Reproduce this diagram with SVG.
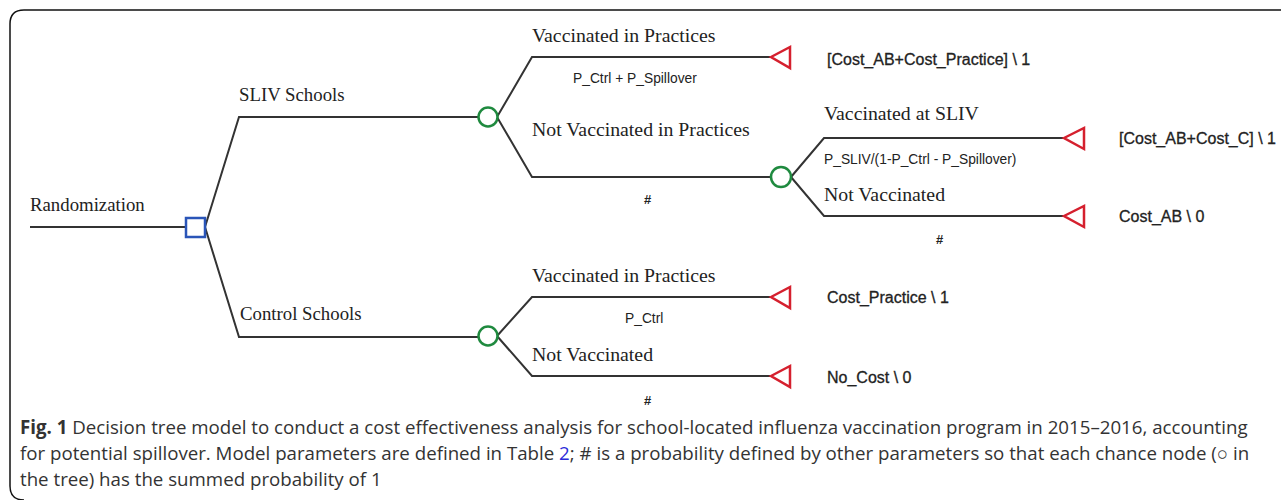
<svg xmlns="http://www.w3.org/2000/svg" width="1281" height="500" viewBox="0 0 1281 500">
<style>
.ln{stroke:#333;stroke-width:2;fill:none}
.dec{fill:#fff;stroke:#2a55b8;stroke-width:2.5}
.ch{fill:#fff;stroke:#1f8a3f;stroke-width:2.5}
.term{fill:#fff;stroke:#d5202e;stroke-width:2.5;stroke-linejoin:miter}
.lab{font-family:"Liberation Serif","Times New Roman",serif;font-size:19.8px;fill:#222}
.labl{font-family:"Liberation Serif","Times New Roman",serif;font-size:18.8px;fill:#222}
.prob{font-family:"Liberation Sans",Arial,sans-serif;font-size:13.8px;fill:#222}
.hash{font-family:"Liberation Sans",Arial,sans-serif;font-size:13px;font-weight:bold;fill:#222}
.pay{font-family:"Liberation Sans",Arial,sans-serif;font-size:16px;fill:#222;stroke:#222;stroke-width:0.3}
.cap{font-family:"Open Sans","Noto Sans",sans-serif;font-size:18.7px;fill:#333}
</style>
<rect width="1281" height="500" fill="#fff"/>
<path d="M1290 10 H24 Q10 10 10 24 V486 Q10 500 24 500" fill="none" stroke="#111" stroke-width="1.5"/>
<g id="connectors">
<path class="ln" d="M30 227 H186"/>
<path class="ln" d="M205 227 L239 117 H479"/>
<path class="ln" d="M205 227 L239 337 H479"/>
<path class="ln" d="M497 117 L532 57 H770"/>
<path class="ln" d="M497 117 L532 177 H771"/>
<path class="ln" d="M791 177 L824 138 H1063"/>
<path class="ln" d="M791 177 L824 216 H1063"/>
<path class="ln" d="M497 336 L532 297 H770"/>
<path class="ln" d="M497 336 L532 376 H770"/>
</g>
<g id="randomization">
<text class="labl" x="30" y="211">Randomization</text>
<rect class="dec" x="186" y="218" width="19" height="19"/>
</g>
<g id="sliv-schools">
<text class="labl" x="239" y="101">SLIV Schools</text>
<circle class="ch" cx="488" cy="117" r="9.5"/>
</g>
<g id="control-schools">
<text class="labl" x="240" y="320">Control Schools</text>
<circle class="ch" cx="488" cy="336" r="9.5"/>
</g>
<g id="sliv-vacc-practices">
<text class="lab" x="532" y="42">Vaccinated in Practices</text>
<text class="prob" x="573" y="83">P_Ctrl + P_Spillover</text>
<polygon class="term" points="771,57 790,47 790,68"/>
<text class="pay" x="827" y="65">[Cost_AB+Cost_Practice] \ 1</text>
</g>
<g id="sliv-not-vacc-practices">
<text class="lab" x="532" y="136">Not Vaccinated in Practices</text>
<text class="hash" x="644" y="204">#</text>
<circle class="ch" cx="781" cy="177" r="10"/>
</g>
<g id="vacc-at-sliv">
<text class="lab" x="824" y="120">Vaccinated at SLIV</text>
<text class="prob" x="824" y="164">P_SLIV/(1-P_Ctrl - P_Spillover)</text>
<polygon class="term" points="1064,138 1084,128 1084,149"/>
<text class="pay" x="1119" y="144">[Cost_AB+Cost_C] \ 1</text>
</g>
<g id="sliv-not-vacc">
<text class="lab" x="824" y="201">Not Vaccinated</text>
<text class="hash" x="936" y="244">#</text>
<polygon class="term" points="1064,216 1084,206 1084,227"/>
<text class="pay" x="1119" y="222">Cost_AB \ 0</text>
</g>
<g id="ctrl-vacc-practices">
<text class="lab" x="532" y="282">Vaccinated in Practices</text>
<text class="prob" x="625" y="323">P_Ctrl</text>
<polygon class="term" points="771,297 790,287 790,308"/>
<text class="pay" x="827" y="303">Cost_Practice \ 1</text>
</g>
<g id="ctrl-not-vacc">
<text class="lab" x="532" y="361">Not Vaccinated</text>
<text class="hash" x="644" y="405">#</text>
<polygon class="term" points="771,376 790,366 790,387"/>
<text class="pay" x="827" y="383">No_Cost \ 0</text>
</g>
<g id="caption">
<text class="cap" x="20" y="434"><tspan font-weight="bold">Fig. 1</tspan> Decision tree model to conduct a cost effectiveness analysis for school-located influenza vaccination program in 2015–2016, accounting</text>
<text class="cap" x="20" y="460">for potential spillover. Model parameters are defined in Table <tspan fill="#2b2bd9">2</tspan>; # is a probability defined by other parameters so that each chance node (○ in</text>
<text class="cap" x="20" y="486">the tree) has the summed probability of 1</text>
</g>
</svg>
